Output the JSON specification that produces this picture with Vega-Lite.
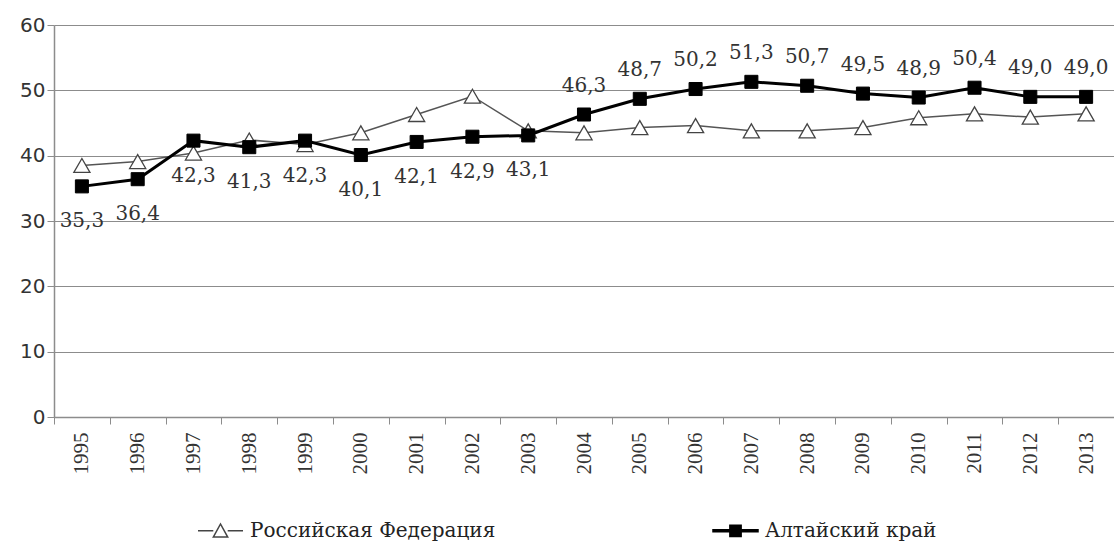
{
  "$schema": "https://vega.github.io/schema/vega-lite/v6.json",
  "width": 1060,
  "height": 392,
  "autosize": {"type": "none"},
  "padding": {"left": 54, "top": 25, "right": 0, "bottom": 130},
  "background": "white",
  "config": {
    "view": {"stroke": null},
    "axis": {"labelColor": "#333333", "domainColor": "#8c8c8c", "tickColor": "#8c8c8c", "gridColor": "#8c8c8c", "gridOpacity": 1}
  },
  "data": {
    "values": [
      {"year": 1995, "series": "Российская Федерация", "value": 38.5},
      {"year": 1996, "series": "Российская Федерация", "value": 39.1},
      {"year": 1997, "series": "Российская Федерация", "value": 40.4},
      {"year": 1998, "series": "Российская Федерация", "value": 42.4},
      {"year": 1999, "series": "Российская Федерация", "value": 41.7},
      {"year": 2000, "series": "Российская Федерация", "value": 43.5},
      {"year": 2001, "series": "Российская Федерация", "value": 46.3},
      {"year": 2002, "series": "Российская Федерация", "value": 49.1},
      {"year": 2003, "series": "Российская Федерация", "value": 43.8},
      {"year": 2004, "series": "Российская Федерация", "value": 43.5},
      {"year": 2005, "series": "Российская Федерация", "value": 44.3},
      {"year": 2006, "series": "Российская Федерация", "value": 44.6},
      {"year": 2007, "series": "Российская Федерация", "value": 43.8},
      {"year": 2008, "series": "Российская Федерация", "value": 43.8},
      {"year": 2009, "series": "Российская Федерация", "value": 44.3},
      {"year": 2010, "series": "Российская Федерация", "value": 45.8},
      {"year": 2011, "series": "Российская Федерация", "value": 46.4},
      {"year": 2012, "series": "Российская Федерация", "value": 45.9},
      {"year": 2013, "series": "Российская Федерация", "value": 46.4},
      {"year": 1995, "series": "Алтайский край", "value": 35.3, "label": "35,3"},
      {"year": 1996, "series": "Алтайский край", "value": 36.4, "label": "36,4"},
      {"year": 1997, "series": "Алтайский край", "value": 42.3, "label": "42,3"},
      {"year": 1998, "series": "Алтайский край", "value": 41.3, "label": "41,3"},
      {"year": 1999, "series": "Алтайский край", "value": 42.3, "label": "42,3"},
      {"year": 2000, "series": "Алтайский край", "value": 40.1, "label": "40,1"},
      {"year": 2001, "series": "Алтайский край", "value": 42.1, "label": "42,1"},
      {"year": 2002, "series": "Алтайский край", "value": 42.9, "label": "42,9"},
      {"year": 2003, "series": "Алтайский край", "value": 43.1, "label": "43,1"},
      {"year": 2004, "series": "Алтайский край", "value": 46.3, "label": "46,3"},
      {"year": 2005, "series": "Алтайский край", "value": 48.7, "label": "48,7"},
      {"year": 2006, "series": "Алтайский край", "value": 50.2, "label": "50,2"},
      {"year": 2007, "series": "Алтайский край", "value": 51.3, "label": "51,3"},
      {"year": 2008, "series": "Алтайский край", "value": 50.7, "label": "50,7"},
      {"year": 2009, "series": "Алтайский край", "value": 49.5, "label": "49,5"},
      {"year": 2010, "series": "Алтайский край", "value": 48.9, "label": "48,9"},
      {"year": 2011, "series": "Алтайский край", "value": 50.4, "label": "50,4"},
      {"year": 2012, "series": "Алтайский край", "value": 49.0, "label": "49,0"},
      {"year": 2013, "series": "Алтайский край", "value": 49.0, "label": "49,0"}
    ]
  },
  "encoding": {
    "x": {
      "field": "year", "type": "ordinal",
      "scale": {"paddingInner": 0, "paddingOuter": 0},
      "axis": {"title": null, "labelAngle": 270, "labelFont": "Liberation Serif", "labelFontSize": 21, "tickBand": "extent", "tickSize": 7, "labelPadding": 8, "grid": false, "domainWidth": 1.5}
    },
    "y": {
      "field": "value", "type": "quantitative",
      "scale": {"domain": [0, 60], "nice": false, "zero": true},
      "axis": {"title": null, "values": [0, 10, 20, 30, 40, 50, 60], "labelFont": "DejaVu Sans", "labelFontSize": 20, "tickSize": 7, "labelPadding": 2, "grid": true, "gridWidth": 1.2, "domainWidth": 1.5}
    }
  },
  "layer": [
    {
      "transform": [{"filter": "datum.series == 'Российская Федерация'"}],
      "mark": {"type": "line", "color": "#555555", "strokeWidth": 1.5}
    },
    {
      "transform": [{"filter": "datum.series == 'Российская Федерация'"}],
      "mark": {"type": "point", "shape": "triangle-up", "filled": true, "fill": "#ffffff", "stroke": "#444444", "strokeWidth": 1.3, "size": 260, "opacity": 1}
    },
    {
      "transform": [{"filter": "datum.series == 'Алтайский край'"}],
      "mark": {"type": "line", "color": "#000000", "strokeWidth": 3}
    },
    {
      "transform": [{"filter": "datum.series == 'Алтайский край'"}],
      "mark": {"type": "point", "shape": "square", "filled": true, "fill": "#000000", "stroke": "#000000", "strokeWidth": 1, "size": 170, "opacity": 1}
    },
    {
      "transform": [{"filter": "datum.value < 0"}],
      "mark": {"type": "point", "filled": true, "opacity": 1, "strokeWidth": 1.3},
      "encoding": {
        "shape": {
          "field": "series", "type": "nominal",
          "scale": {"domain": ["Российская Федерация", "Алтайский край"], "range": ["M-1,0H-0.32M0.32,0H1M-0.32,0.28L0,-0.3L0.32,0.28Z", "M-1,-0.04H1V0.04H-1ZM-0.25,-0.25H0.25V0.25H-0.25Z"]},
          "legend": {
            "title": null, "orient": "none", "direction": "horizontal",
            "legendX": 143, "legendY": 482,
            "symbolSize": 2025, "labelOffset": 6, "columnPadding": 214,
            "labelFont": "DejaVu Serif", "labelFontSize": 20, "labelColor": "#222222", "labelLimit": 400
          }
        },
        "fill": {
          "field": "series", "type": "nominal",
          "scale": {"domain": ["Российская Федерация", "Алтайский край"], "range": ["#ffffff", "#000000"]}
        },
        "stroke": {
          "field": "series", "type": "nominal",
          "scale": {"domain": ["Российская Федерация", "Алтайский край"], "range": ["#444444", "#000000"]}
        }
      }
    },
    {
      "transform": [{"filter": "datum.series == 'Алтайский край' && datum.year <= 2003"}],
      "mark": {"type": "text", "font": "DejaVu Serif", "fontSize": 20, "color": "#333333", "dy": 35, "baseline": "middle"},
      "encoding": {"text": {"field": "label"}}
    },
    {
      "transform": [{"filter": "datum.series == 'Алтайский край' && datum.year > 2003"}],
      "mark": {"type": "text", "font": "DejaVu Serif", "fontSize": 20, "color": "#333333", "dy": -29, "baseline": "middle"},
      "encoding": {"text": {"field": "label"}}
    }
  ]
}
